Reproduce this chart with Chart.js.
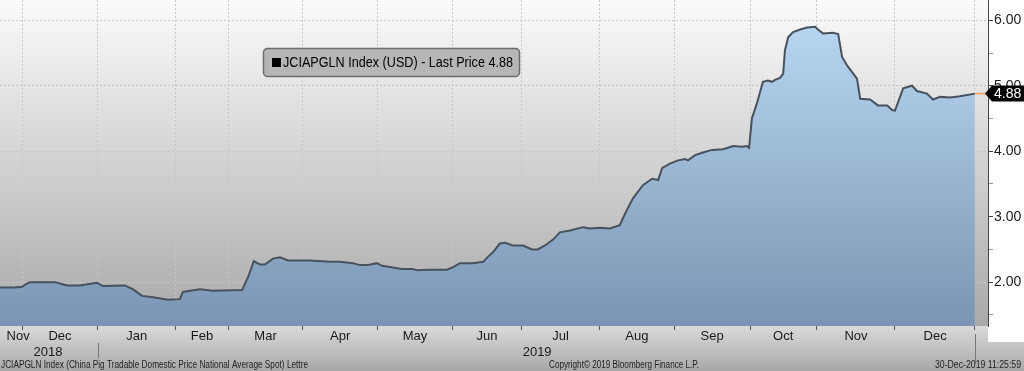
<!DOCTYPE html>
<html>
<head>
<meta charset="utf-8">
<script src="https://cdn.jsdelivr.net/npm/chart.js@4.4.1/dist/chart.umd.min.js"></script>
<style>
html, body { margin: 0; padding: 0; background: #fff; }
#wrap { width: 1024px; height: 371px; }
</style>
</head>
<body>
<div id="wrap"><canvas id="chart" width="1024" height="371"></canvas></div>
<script>
// x = trading sessions from the left edge of the chart, y = index level (USD)
const days = [0, 4.2, 6.2, 7.3, 8.5, 15.5, 16.9, 18.9, 22.5, 27.3, 29.0, 35.2, 37.5, 40.0, 43.1, 47.3, 50.7, 51.5,
  56.3, 60.0, 68.2, 69.9, 71.5, 73.2, 74.6, 76.9, 78.9, 81.1, 87.3, 93.0, 95.8, 99.4, 101.4, 103.4, 106.2, 107.6,
  109.9, 113.2, 116.1, 117.7, 120.3, 125.9, 127.6, 129.6, 133.2, 136.1, 137.5, 138.9, 140.8, 142.3, 144.5, 147.3,
  149.9, 151.5, 153.5, 155.8, 157.7, 160.6, 164.2, 166.2, 169.0, 171.8, 174.6, 176.1, 178.3, 181.1, 183.7, 185.4,
  186.5, 188.7, 191.0, 193.0, 193.8, 195.8, 198.0, 200.6, 203.7, 206.5, 209.0, 210.4, 211.0, 211.8, 213.2, 214.9,
  216.3, 217.5, 218.3, 219.7, 220.6, 221.1, 222.0, 223.4, 225.4, 227.3, 229.6, 230.4, 231.8, 234.6, 236.1, 237.2,
  238.6, 241.4, 242.3, 245.1, 247.3, 249.9, 251.3, 252.1, 254.4, 256.9, 258.3, 261.1, 262.8, 264.8, 267.6, 270.4, 274.6];
const prices = [1.92, 1.92, 1.93, 1.97, 2.00, 2.00, 1.98, 1.95, 1.95, 1.99, 1.94, 1.95, 1.89, 1.79, 1.77, 1.73, 1.74, 1.85,
  1.89, 1.87, 1.88, 2.08, 2.32, 2.27, 2.27, 2.36, 2.38, 2.33, 2.33, 2.31, 2.31, 2.29, 2.26, 2.26, 2.29, 2.25,
  2.23, 2.20, 2.20, 2.18, 2.19, 2.19, 2.23, 2.29, 2.29, 2.31, 2.39, 2.46, 2.59, 2.60, 2.56, 2.56,
  2.50, 2.50, 2.56, 2.65, 2.76, 2.79, 2.84, 2.82, 2.83, 2.82, 2.87, 3.05, 3.28, 3.48, 3.58, 3.56,
  3.74, 3.81, 3.86, 3.88, 3.86, 3.94, 3.98, 4.02, 4.03, 4.08, 4.07, 4.08, 4.05, 4.50, 4.73, 5.06,
  5.08, 5.06, 5.09, 5.12, 5.18, 5.54, 5.74, 5.82, 5.86, 5.89, 5.90, 5.86, 5.80, 5.81, 5.79, 5.44,
  5.31, 5.11, 4.80, 4.79, 4.70, 4.70, 4.63, 4.62, 4.96, 5.00, 4.92, 4.88, 4.79, 4.83, 4.82, 4.84, 4.88];

const monthStarts = [6.4, 27.5, 49.5, 64.3, 85.3, 106.3, 127.5, 147.0, 168.8, 189.9, 211.3, 230.1, 252.1, 274.6];
const monthLabels = ['Nov', 'Dec', 'Jan', 'Feb', 'Mar', 'Apr', 'May', 'Jun', 'Jul', 'Aug', 'Sep', 'Oct', 'Nov', 'Dec'];
const monthLabelDays = [5.1, 16.9, 38.5, 56.9, 74.8, 95.8, 116.9, 137.2, 157.9, 179.4, 200.6, 220.6, 241.1, 263.4];
const yearLabels = ['2018', '2019'];
const yearLabelDays = [13.5, 151.3];
const yearBreakDays = [27.5, 274.6];
const priceMin = 1.33;
const priceMax = 6.31;
const priceTicks = [1.5, 2, 2.5, 3, 3.5, 4, 4.5, 5, 5.5, 6];
const lastPrice = 4.88;

const legendText = 'JCIAPGLN Index (USD) - Last Price 4.88';
const footerLeft = 'JCIAPGLN Index (China Pig Tradable Domestic Price National Average Spot) Lettre';
const footerMid = 'Copyright\u00A9 2019 Bloomberg Finance L.P.';
const footerRight = '30-Dec-2019 11:25:59';

const FONT = '"Liberation Sans", Arial, sans-serif';
Chart.defaults.font.family = FONT;

const isStart = v => monthStarts.includes(v);

// plot fills the window edge to edge: drop the label overhang padding
function noPad(s) {
  s.paddingTop = 0; s.paddingBottom = 0; s.paddingLeft = 0; s.paddingRight = 0;
}

// background: white page, grey gradient plot, grey bottom strip
const bgPlugin = {
  id: 'bg',
  beforeDraw(chart) {
    const { ctx, chartArea: a, width, height } = chart;
    ctx.save();
    ctx.fillStyle = '#fff';
    ctx.fillRect(0, 0, width, height);
    let g = ctx.createLinearGradient(0, a.top, 0, a.bottom);
    g.addColorStop(0, '#fbfbfb');
    g.addColorStop(1, '#a9a9a9');
    ctx.fillStyle = g;
    ctx.fillRect(a.left, a.top, a.right - a.left, a.bottom - a.top);
    g = ctx.createLinearGradient(0, a.bottom, 0, height);
    g.addColorStop(0, '#dadada');
    g.addColorStop(1, '#a8a8a8');
    ctx.fillStyle = g;
    ctx.fillRect(0, a.bottom, a.right, height - a.bottom);
    ctx.fillRect(a.right, a.bottom + 16, width - a.right, height - a.bottom - 16);
    ctx.restore();
  }
};

const overlayPlugin = {
  id: 'overlay',
  afterDraw(chart) {
    const { ctx, chartArea: a, width } = chart;
    const x = chart.scales.x, y = chart.scales.y;
    ctx.save();

    // years
    ctx.fillStyle = '#1a1a1a';
    ctx.font = '13px ' + FONT;
    ctx.textAlign = 'center';
    ctx.textBaseline = 'middle';
    yearLabels.forEach((t, i) => ctx.fillText(t, x.getPixelForValue(yearLabelDays[i]), 352));

    // year separators
    ctx.strokeStyle = '#777';
    ctx.lineWidth = 1;
    yearBreakDays.forEach((d, i) => {
      const px = Math.round(x.getPixelForValue(d)) + 0.5;
      ctx.beginPath();
      ctx.moveTo(px, i === 0 ? 343 : 334);
      ctx.lineTo(px, i === 0 ? 358 : 364);
      ctx.stroke();
    });

    // last price line + tag
    const ty = y.getPixelForValue(lastPrice);
    ctx.strokeStyle = '#eea25e';
    ctx.lineWidth = 1.5;
    ctx.beginPath();
    ctx.moveTo(x.getPixelForValue(days[days.length - 1]), ty);
    ctx.lineTo(a.right, ty);
    ctx.stroke();
    ctx.fillStyle = '#000';
    ctx.beginPath();
    ctx.moveTo(a.right - 3, ty);
    ctx.lineTo(a.right + 4, ty - 8);
    ctx.lineTo(width, ty - 8);
    ctx.lineTo(width, ty + 8);
    ctx.lineTo(a.right + 4, ty + 8);
    ctx.closePath();
    ctx.fill();
    ctx.fillStyle = '#fff';
    ctx.font = '14px ' + FONT;
    ctx.textAlign = 'left';
    ctx.fillText(lastPrice.toFixed(2), a.right + 6, ty + 1);

    // legend box
    ctx.fillStyle = '#b6b6b6';
    ctx.strokeStyle = '#6c6c6c';
    ctx.lineWidth = 1.5;
    ctx.beginPath();
    ctx.roundRect(263.5, 48.5, 256, 28, 4);
    ctx.fill();
    ctx.stroke();
    ctx.fillStyle = '#000';
    ctx.fillRect(272, 58, 9, 9);
    ctx.font = '15px ' + FONT;
    ctx.fillText(legendText, 283, 63, 230);

    // footer
    ctx.fillStyle = '#222';
    ctx.font = '10px ' + FONT;
    ctx.fillText(footerLeft, 1, 365, 307);
    ctx.fillText(footerMid, 549, 365, 150);
    ctx.textAlign = 'right';
    ctx.fillText(footerRight, 1021, 365, 86);
    ctx.restore();
  }
};

new Chart(document.getElementById('chart'), {
  type: 'line',
  data: {
    datasets: [{
      data: days.map((d, i) => ({ x: d, y: prices[i] })),
      borderColor: '#47525e',
      borderWidth: 2,
      pointRadius: 0,
      tension: 0,
      fill: 'start',
      backgroundColor: (c) => {
        const a = c.chart.chartArea;
        if (!a) return '#9fbcdc';
        const g = c.chart.ctx.createLinearGradient(0, a.top, 0, a.bottom);
        g.addColorStop(0, '#bddbf7');
        g.addColorStop(1, '#7a95b3');
        return g;
      }
    }]
  },
  options: {
    responsive: false,
    devicePixelRatio: 1,
    animation: false,
    layout: { padding: 0 },
    plugins: { legend: { display: false }, tooltip: { enabled: false } },
    scales: {
      x: {
        type: 'linear',
        min: 0,
        max: 278.3,
        afterBuildTicks: s => {
          s.ticks = monthStarts.concat(monthLabelDays).sort((p, q) => p - q).map(v => ({ value: v }));
        },
        afterFit: s => { s.height = 45; noPad(s); },
        ticks: {
          autoSkip: false,
          maxRotation: 0,
          padding: -1,
          color: '#1a1a1a',
          font: { size: 13 },
          callback: v => {
            const i = monthLabelDays.indexOf(v);
            return i >= 0 ? monthLabels[i] : '';
          }
        },
        grid: {
          color: c => isStart(c.tick.value) ? '#c6c6c6' : 'rgba(0,0,0,0)',
          tickColor: c => isStart(c.tick.value) ? '#555' : 'rgba(0,0,0,0)',
          tickLength: 4
        },
        border: { display: false, dash: [2, 2] }
      },
      y: {
        position: 'right',
        min: priceMin,
        max: priceMax,
        afterBuildTicks: s => { s.ticks = priceTicks.map(v => ({ value: v })); },
        afterFit: s => { s.width = 36; noPad(s); },
        ticks: {
          padding: 1,
          color: '#1a1a1a',
          font: { size: 14 },
          callback: v => Number.isInteger(v) ? v.toFixed(2) : ''
        },
        grid: {
          color: c => Number.isInteger(c.tick.value) ? '#c6c6c6' : 'rgba(0,0,0,0)',
          tickColor: c => Number.isInteger(c.tick.value) ? '#444' : '#999',
          tickLength: 5
        },
        border: { display: true, color: '#444', width: 1, dash: [2, 2] }
      }
    }
  },
  plugins: [bgPlugin, overlayPlugin]
});
</script>
</body>
</html>
